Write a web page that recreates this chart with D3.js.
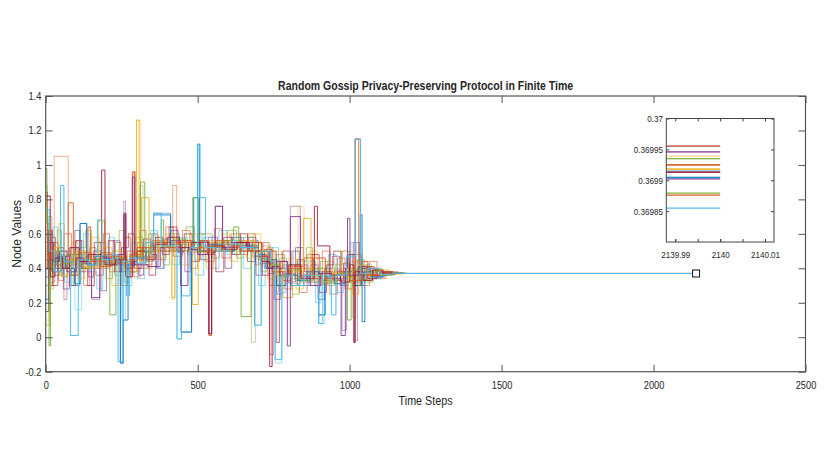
<!DOCTYPE html>
<html lang="en">
<head>
<meta charset="UTF-8">
<title>Random Gossip</title>
<script src="https://d3js.org/d3.v7.min.js"></script>
<style>
    body{margin:0;background:#fff;}
    svg text{font-family:"Liberation Sans",Arial,sans-serif;fill:#262626;}
</style>
</head>
<body>
<svg id="canvas" width="830" height="467"></svg>
<script>
// time at which every node is plotted to the end
const tEnd = 2140;
const xTicks = [0, 500, 1000, 1500, 2000, 2500];
const yTicks = [-0.2, 0, 0.2, 0.4, 0.6, 0.8, 1, 1.2, 1.4];
const yTickLabels = ["-0.2", "0", "0.2", "0.4", "0.6", "0.8", "1", "1.2", "1.4"];
const insetXTicks = [2139.99, 2140, 2140.01];
const insetXLabels = ["2139.99", "2140", "2140.01"];
const insetYTicks = [0.36985, 0.3699, 0.36995, 0.37];
const insetYLabels = ["0.36985", "0.3699", "0.36995", "0.37"];

// step points [time, value], one list per node
const nodeBlue = [[0,0.22],[9,0.45],[22,0.38],[40,0.47],[65,0.40],[95,0.31],[113,0.66],[135,0.42],[165,0.47],[200,0.44],[238,0.45],[246,-0.15],[255,0.10],[271,0.42],[300,0.46],[330,0.50],[355,0.71],[411,0.54],[446,0.03],[480,0.52],[487,0.81],[500,1.12],[506,0.50],[540,0.54],[580,0.50],[620,0.55],[660,0.53],[700,0.48],[725,0.40],[745,0.45],[760,0.30],[790,0.36],[830,0.33],[870,0.38],[898,0.13],[919,0.35],[950,0.31],[985,0.38],[1010,0.30],[1035,0.71],[1041,0.09],[1050,0.38],[1080,0.35],[1110,0.38],[1140,0.372],[1180,0.369904]];
const nodeOrange = [[0,0.84],[6,0.40],[15,0.55],[30,0.42],[55,0.47],[74,0.78],[91,0.45],[120,0.40],[139,0.64],[148,0.44],[180,0.49],[215,0.43],[250,0.47],[265,0.35],[280,0.45],[287,0.96],[293,0.48],[320,0.52],[350,0.56],[390,0.50],[430,0.55],[470,0.51],[510,0.56],[537,0.01],[546,0.50],[580,0.54],[620,0.52],[660,0.55],[700,0.46],[720,0.51],[745,0.38],[780,0.33],[810,0.41],[848,0.46],[880,0.34],[910,0.38],[945,0.33],[980,0.43],[1000,0.35],[1018,1.15],[1030,0.33],[1055,0.41],[1080,0.36],[1110,0.375],[1150,0.3702],[1190,0.369925]];
const nodeYellow = [[0,0.07],[14,0.40],[30,0.52],[48,0.36],[70,0.45],[100,0.50],[130,0.41],[172,0.68],[195,0.44],[230,0.47],[260,0.40],[299,1.26],[310,0.47],[315,0.81],[340,0.50],[370,0.53],[415,0.23],[425,0.54],[460,0.50],[483,0.19],[502,0.52],[540,0.55],[575,0.50],[610,0.54],[650,0.56],[690,0.50],[730,0.42],[760,0.36],[780,0.23],[812,0.38],[848,0.69],[873,0.36],[910,0.32],[945,0.37],[990,0.40],[1010,0.25],[1030,0.42],[1060,0.34],[1090,0.39],[1130,0.368],[1170,0.369918]];
const nodePurple = [[0,0.15],[10,0.55],[25,0.44],[45,0.50],[70,0.38],[100,0.46],[125,0.43],[151,0.23],[178,0.46],[210,0.42],[240,0.48],[257,0.71],[263,0.40],[285,0.93],[293,0.42],[336,0.41],[377,0.52],[410,0.56],[444,0.30],[468,0.51],[500,0.48],[537,0.02],[546,0.49],[558,0.76],[582,0.52],[620,0.55],[660,0.52],[700,0.47],[730,0.40],[760,0.44],[795,-0.05],[805,0.70],[838,0.35],[870,0.30],[905,0.37],[940,0.34],[972,0.01],[986,0.40],[993,0.69],[1001,0.36],[1030,0.41],[1060,0.34],[1090,0.38],[1130,0.371],[1170,0.369902]];
const nodeGreen = [[0,0.98],[4,0.66],[11,-0.05],[16,0.42],[35,0.50],[60,0.43],[90,0.48],[120,0.40],[150,0.45],[185,0.42],[211,0.13],[231,0.46],[260,0.44],[290,0.47],[312,0.90],[326,0.49],[350,0.55],[380,0.68],[388,0.52],[420,0.57],[460,0.52],[484,0.81],[503,0.50],[540,0.53],[580,0.56],[618,0.64],[635,0.53],[643,0.12],[676,0.52],[700,0.45],[740,0.42],[770,0.35],[800,0.39],[840,0.33],[880,0.40],[920,0.32],[960,0.37],[993,0.10],[1005,0.39],[1040,0.33],[1070,0.38],[1100,0.36],[1140,0.373],[1180,0.369879]];
const nodeDarkRed = [[0,0.82],[15,0.35],[30,0.46],[55,0.40],[80,0.52],[110,0.44],[140,0.48],[184,0.97],[195,0.42],[230,0.45],[258,0.72],[264,0.35],[285,0.44],[300,0.50],[330,0.45],[360,0.54],[400,0.58],[440,0.52],[480,0.55],[537,0.02],[546,0.53],[590,0.51],[630,0.55],[670,0.50],[710,0.44],[737,-0.17],[745,0.41],[770,0.36],[800,0.42],[840,0.34],[884,0.76],[894,0.53],[935,0.36],[970,0.32],[1000,0.42],[1014,-0.03],[1018,0.38],[1045,0.33],[1075,0.39],[1110,0.367],[1150,0.3701],[1190,0.369913]];
const nodeCyan = [[0,0.74],[12,0.50],[28,0.38],[49,0.88],[60,0.44],[82,0.01],[107,0.45],[140,0.42],[170,0.68],[185,0.45],[220,0.48],[238,-0.14],[254,0.44],[266,0.24],[276,0.46],[300,0.43],[330,0.55],[355,0.72],[380,0.53],[432,-0.01],[447,0.24],[475,0.52],[500,1.12],[507,0.81],[526,0.52],[560,0.50],[600,0.54],[640,0.52],[687,0.07],[709,0.50],[740,0.44],[755,-0.13],[777,0.36],[810,0.30],[850,0.36],[898,0.08],[912,0.36],[940,0.13],[955,0.36],[990,0.47],[1019,1.15],[1036,0.37],[1060,0.40],[1100,0.365],[1140,0.371],[1180,0.369855]];
const nodeSalmon = [[0,0.60],[8,0.40],[28,1.05],[74,0.44],[100,0.38],[130,0.47],[160,0.42],[200,0.48],[240,0.44],[265,0.40],[285,0.96],[295,0.45],[330,0.52],[370,0.50],[418,0.88],[431,0.54],[470,0.49],[510,0.56],[550,0.51],[590,0.55],[640,0.52],[680,0.47],[710,0.53],[740,0.42],[760,-0.03],[769,0.38],[800,0.34],[830,0.40],[870,0.35],[910,0.31],[950,0.38],[990,0.33],[1018,1.15],[1036,0.36],[1060,0.39],[1100,0.372],[1150,0.369956]];
const nodeRose = [[0,0.55],[12,0.30],[25,0.45],[60,0.22],[70,0.42],[100,0.48],[130,0.44],[170,0.40],[210,0.46],[250,0.42],[275,0.38],[300,0.55],[320,0.47],[360,0.52],[400,0.55],[440,0.50],[480,0.54],[520,0.49],[560,0.55],[600,0.52],[650,0.55],[700,0.43],[737,-0.10],[750,0.38],[790,0.36],[820,0.42],[860,0.32],[900,0.38],[940,0.34],[980,0.40],[1014,-0.03],[1018,0.36],[1050,0.40],[1090,0.36],[1130,0.372],[1170,0.369955]];
const nodeLilac = [[0,0.40],[10,0.32],[30,0.48],[60,0.40],[90,0.46],[120,0.38],[151,0.22],[178,0.43],[210,0.47],[240,0.42],[257,0.79],[263,0.45],[290,0.40],[336,0.41],[370,0.55],[410,0.51],[450,0.56],[490,0.50],[530,0.54],[558,0.76],[582,0.50],[620,0.53],[660,0.56],[700,0.50],[730,0.37],[758,-0.03],[769,0.40],[805,0.76],[838,0.32],[870,0.37],[910,0.33],[950,0.39],[975,0.04],[990,0.36],[1018,-0.02],[1026,0.40],[1060,0.36],[1100,0.374],[1150,0.369946]];
const nodeSand = [[0,0.10],[12,0.48],[35,0.40],[65,0.50],[95,0.42],[130,0.46],[172,0.67],[195,0.43],[230,0.40],[260,0.47],[299,1.26],[306,0.45],[340,0.50],[380,0.55],[415,0.22],[425,0.52],[470,0.55],[510,0.50],[550,0.53],[600,0.50],[640,0.55],[680,0.49],[710,0.41],[750,0.44],[780,0.36],[830,0.76],[850,0.36],[890,0.31],[930,0.39],[970,0.34],[1000,0.44],[1030,0.30],[1050,0.40],[1090,0.37],[1130,0.3705],[1170,0.369939]];
const nodeSage = [[0,0.88],[6,0.50],[20,0.36],[45,0.45],[75,0.40],[105,0.50],[140,0.43],[175,0.47],[205,0.42],[235,0.45],[270,0.38],[310,0.88],[320,0.47],[350,0.52],[390,0.56],[430,0.50],[470,0.55],[510,0.52],[560,0.55],[600,0.50],[640,0.54],[677,-0.03],[690,0.50],[720,0.45],[750,0.38],[780,0.42],[820,0.34],[860,0.39],[900,0.33],[940,0.40],[980,0.35],[1010,0.11],[1020,0.40],[1050,0.35],[1090,0.38],[1130,0.369],[1170,0.369935]];
const nodeSteel = [[0,0.30],[10,0.46],[30,0.36],[55,0.47],[86,0.30],[113,0.66],[135,0.44],[170,0.48],[205,0.43],[245,-0.15],[255,0.42],[290,0.47],[330,0.44],[355,0.72],[411,0.52],[446,0.03],[480,0.50],[520,0.55],[560,0.52],[600,0.56],[650,0.53],[690,0.47],[720,0.40],[760,0.25],[780,0.37],[820,0.33],[860,0.38],[898,0.13],[919,0.34],[960,0.38],[1000,0.32],[1040,0.41],[1070,0.35],[1100,0.375],[1140,0.3702],[1180,0.369905]];
const nodeAmber = [[0,0.45],[10,0.62],[20,0.38],[50,0.44],[80,0.36],[110,0.49],[150,0.45],[180,0.41],[215,0.47],[250,0.43],[280,0.48],[300,0.52],[330,0.46],[360,0.55],[400,0.52],[440,0.56],[480,0.52],[520,0.50],[560,0.56],[600,0.53],[640,0.50],[680,0.55],[710,0.47],[740,0.44],[770,0.36],[800,0.40],[840,0.36],[880,0.46],[920,0.34],[960,0.38],[1000,0.33],[1040,0.44],[1060,0.36],[1100,0.38],[1140,0.3695],[1180,0.369876]];
const nodeSky = [[0,0.50],[8,0.36],[25,0.46],[50,0.41],[75,0.52],[96,0.16],[118,0.44],[150,0.48],[190,0.43],[225,0.47],[250,0.10],[262,0.44],[300,0.42],[340,0.53],[380,0.50],[432,-0.01],[447,0.50],[500,1.12],[510,0.53],[540,0.50],[580,0.55],[620,0.51],[660,0.54],[687,0.07],[709,0.48],[740,0.40],[755,-0.15],[777,0.38],[800,0.31],[840,0.37],[880,0.32],[900,0.08],[919,0.37],[960,0.33],[990,0.48],[1019,1.15],[1036,0.39],[1070,0.35],[1110,0.373],[1150,0.369915]];
const nodeCopper = [[0,0.62],[10,0.30],[25,0.55],[42,0.33],[60,0.60],[85,0.36],[100,0.56],[125,0.30],[145,0.52],[165,0.36],[190,0.60],[210,0.38],[230,0.55],[248,0.30],[268,0.50],[290,0.35],[310,0.62],[330,0.42],[350,0.60],[370,0.45],[395,0.64],[420,0.47],[450,0.62],[475,0.40],[500,0.60],[525,0.44],[555,0.63],[580,0.46],[610,0.60],[640,0.48],[665,0.60],[690,0.42],[715,0.55],[735,0.30],[760,0.48],[785,0.28],[810,0.50],[835,0.26],[860,0.48],[885,0.30],[910,0.50],[935,0.25],[960,0.46],[985,0.28],[1010,0.48],[1040,0.30],[1065,0.44],[1090,0.34],[1120,0.38],[1160,0.3701],[1200,0.369925]];
const nodePlum = [[0,0.35],[14,0.58],[32,0.40],[58,0.28],[78,0.48],[96,0.62],[112,0.45],[140,0.35],[158,0.50],[182,0.27],[200,0.44],[222,0.56],[244,0.38],[262,0.58],[278,0.43],[305,0.36],[322,0.57],[345,0.48],[365,0.40],[388,0.57],[412,0.62],[436,0.49],[458,0.38],[478,0.55],[510,0.45],[535,0.58],[565,0.52],[590,0.40],[612,0.58],[645,0.50],[668,0.58],[692,0.36],[712,0.50],[732,0.43],[752,0.22],[772,0.44],[796,0.32],[822,0.52],[848,0.30],[872,0.42],[896,0.22],[918,0.40],[944,0.47],[968,0.30],[994,0.40],[1012,0.55],[1032,0.33],[1058,0.40],[1085,0.35],[1115,0.375],[1155,0.3698],[1195,0.369946]];
const nodeOlive = [[0,0.48],[8,0.70],[20,0.45],[38,0.62],[52,0.35],[72,0.48],[92,0.30],[110,0.52],[132,0.62],[150,0.40],[172,0.55],[198,0.34],[220,0.50],[242,0.62],[258,0.32],[276,0.48],[296,0.58],[318,0.44],[338,0.60],[362,0.50],[386,0.42],[408,0.60],[440,0.52],[462,0.64],[490,0.45],[515,0.60],[548,0.46],[572,0.55],[598,0.62],[628,0.46],[652,0.58],[682,0.50],[706,0.38],[728,0.52],[748,0.30],[770,0.46],[792,0.38],[812,0.25],[834,0.44],[858,0.52],[878,0.34],[904,0.44],[928,0.30],[952,0.42],[976,0.50],[1002,0.32],[1026,0.45],[1048,0.32],[1078,0.39],[1108,0.362],[1150,0.3703],[1195,0.369935]];
const nodeTeal = [[0,0.20],[10,0.40],[24,0.64],[40,0.46],[62,0.32],[80,0.52],[104,0.40],[124,0.60],[146,0.38],[168,0.28],[188,0.48],[208,0.58],[226,0.36],[246,0.46],[264,0.30],[284,0.55],[302,0.34],[326,0.46],[346,0.62],[368,0.40],[392,0.55],[418,0.42],[440,0.58],[466,0.48],[492,0.36],[520,0.58],[546,0.40],[570,0.62],[596,0.48],[622,0.58],[650,0.40],[676,0.56],[700,0.30],[722,0.44],[744,0.52],[766,0.26],[790,0.42],[814,0.50],[836,0.30],[864,0.44],[888,0.20],[906,0.38],[930,0.48],[956,0.26],[980,0.42],[1004,0.55],[1022,0.30],[1044,0.42],[1072,0.34],[1104,0.38],[1145,0.3697],[1190,0.369915]];
const nodeGold = [[0,0.58],[12,0.28],[26,0.50],[44,0.66],[62,0.40],[86,0.55],[106,0.34],[128,0.46],[152,0.58],[176,0.40],[196,0.52],[218,0.30],[240,0.50],[260,0.58],[280,0.38],[302,0.50],[324,0.40],[348,0.58],[374,0.46],[396,0.60],[424,0.50],[448,0.42],[474,0.60],[498,0.50],[528,0.40],[552,0.56],[580,0.60],[606,0.44],[632,0.56],[660,0.46],[684,0.60],[708,0.48],[730,0.34],[754,0.50],[776,0.38],[800,0.46],[824,0.28],[848,0.40],[870,0.50],[894,0.32],[920,0.44],[946,0.36],[970,0.50],[996,0.28],[1020,0.44],[1046,0.36],[1074,0.40],[1106,0.365],[1150,0.3702],[1195,0.369918]];
const nodeWine = [[0,0.40],[9,0.62],[22,0.30],[40,0.52],[58,0.44],[78,0.30],[98,0.56],[118,0.40],[138,0.30],[160,0.55],[182,0.44],[206,0.56],[226,0.38],[250,0.52],[272,0.60],[292,0.40],[316,0.52],[340,0.36],[362,0.58],[384,0.48],[406,0.64],[432,0.50],[456,0.60],[482,0.44],[506,0.56],[532,0.48],[560,0.38],[586,0.58],[614,0.48],[640,0.60],[664,0.44],[690,0.55],[712,0.36],[736,0.50],[758,0.40],[780,0.50],[806,0.30],[828,0.45],[852,0.38],[876,0.48],[900,0.26],[924,0.42],[948,0.50],[972,0.36],[998,0.48],[1018,0.30],[1040,0.40],[1068,0.36],[1100,0.378],[1145,0.3698],[1190,0.369913]];

const nodes = [nodeSalmon, nodeRose, nodeLilac, nodeSand, nodeSage, nodeSteel, nodeSky,
               nodeCopper, nodePlum, nodeOlive, nodeTeal, nodeGold, nodeWine,
               nodeBlue, nodeOrange, nodeYellow, nodePurple, nodeGreen, nodeDarkRed, nodeAmber, nodeCyan];
const nodeColors = ["#D95319","#A2142F","#7E2F8E","#EDB120","#77AC30","#0072BD","#4DBEEE",
                    "#D95319","#7E2F8E","#77AC30","#4DBEEE","#EDB120","#A2142F",
                    "#0072BD","#D95319","#EDB120","#7E2F8E","#77AC30","#A2142F","#D95319","#4DBEEE"];
const nodeAlpha = [0.45,0.45,0.45,0.45,0.45,0.45,0.45,
                   0.6,0.6,0.6,0.6,0.6,0.6,
                   0.85,0.85,0.85,0.85,0.85,0.85,0.85,1];

let svg = d3.select('#canvas');
let margin = {left: 45.7, right: 805.5, top: 96, bottom: 371.7};

let x = d3.scaleLinear().domain([0, 2500]).range([margin.left, margin.right]);
let y = d3.scaleLinear().domain([-0.2, 1.4]).range([margin.bottom, margin.top]);

let line = d3.line()
    .x(function (d){return x(d[0])})
    .y(function (d){return y(d[1])})
    .curve(d3.curveStepAfter);

let lines = svg.append('g');
nodes.forEach(function (pts, i){
    let last = pts[pts.length - 1];
    lines.append('path')
        .attr('d', line(pts.concat([[tEnd, last[1]]])))
        .attr('fill', 'none')
        .attr('stroke', nodeColors[i])
        .attr('stroke-opacity', nodeAlpha[i])
        .attr('stroke-width', 1);
});

// marker for the zoomed region
svg.append('rect')
    .attr('x', x(tEnd) - 3.5).attr('y', y(0.37) - 3.5)
    .attr('width', 7).attr('height', 7)
    .attr('fill', 'white').attr('stroke', '#111').attr('stroke-width', 1);

// main axes, ticks inward, box on
let axisCol = '#555';
function styleAxis(g){
    g.select('.domain').remove();
    g.selectAll('line').attr('stroke', axisCol);
    g.selectAll('text').attr('fill', '#262626').style('font-size', '10.5px');
}
svg.append('g').attr('transform', 'translate(0,' + margin.bottom + ')')
    .call(d3.axisBottom(x).tickValues(xTicks).tickSize(-7).tickPadding(10).tickFormat(d3.format('d')))
    .call(styleAxis)
    .call(function (g){ g.selectAll('text').attr('transform', 'scale(0.88,1)') });
svg.append('g').attr('transform', 'translate(0,' + margin.top + ')')
    .call(d3.axisTop(x).tickValues(xTicks).tickSize(-7).tickFormat(''))
    .call(styleAxis);
svg.append('g').attr('transform', 'translate(' + margin.left + ',0)')
    .call(d3.axisLeft(y).tickValues(yTicks).tickSize(-7).tickPadding(5)
        .tickFormat(function (d, i){return yTickLabels[i]}))
    .call(styleAxis)
    .call(function (g){ g.selectAll('text').attr('transform', 'scale(0.88,1)') });
svg.append('g').attr('transform', 'translate(' + margin.right + ',0)')
    .call(d3.axisRight(y).tickValues(yTicks).tickSize(-7).tickFormat(''))
    .call(styleAxis);
svg.append('rect')
    .attr('x', margin.left).attr('y', margin.top)
    .attr('width', margin.right - margin.left).attr('height', margin.bottom - margin.top)
    .attr('fill', 'none').attr('stroke', axisCol).attr('stroke-width', 1.2);

svg.append('text')
    .attr('x', (margin.left + margin.right) / 2).attr('y', 89.5)
    .attr('text-anchor', 'middle').attr('font-weight', 'bold').style('font-size', '12px')
    .attr('textLength', 295).attr('lengthAdjust', 'spacingAndGlyphs')
    .text('Random Gossip Privacy-Preserving Protocol in Finite Time');
svg.append('text')
    .attr('x', (margin.left + margin.right) / 2).attr('y', 405)
    .attr('text-anchor', 'middle').style('font-size', '12px')
    .attr('textLength', 54).attr('lengthAdjust', 'spacingAndGlyphs')
    .text('Time Steps');
svg.append('text')
    .attr('transform', 'translate(20.5,' + (margin.top + margin.bottom) / 2 + ') rotate(-90)')
    .attr('text-anchor', 'middle').style('font-size', '12px')
    .text('Node Values');

// inset
let ib = {left: 666.3, right: 774, top: 118.5, bottom: 242};
let ix = d3.scaleLinear().domain([2139.988, 2140.012]).range([ib.left, ib.right]);
let iy = d3.scaleLinear().domain([0.3698, 0.37]).range([ib.bottom, ib.top]);
let inset = svg.append('g');
inset.append('rect')
    .attr('x', ib.left).attr('y', ib.top)
    .attr('width', ib.right - ib.left).attr('height', ib.bottom - ib.top)
    .attr('fill', 'white');
nodes.forEach(function (pts, i){
    let v = pts[pts.length - 1][1];
    inset.append('line')
        .attr('x1', ix(ix.domain()[0])).attr('x2', ix(tEnd))
        .attr('y1', iy(v)).attr('y2', iy(v))
        .attr('stroke', nodeColors[i])
        .attr('stroke-opacity', Math.min(1, nodeAlpha[i] + 0.1))
        .attr('stroke-width', 1.2);
});
let minorX = d3.range(0, 5).map(function (k){return 2139.99 + k * 0.005});
function styleInset(g){
    g.select('.domain').remove();
    g.selectAll('line').attr('stroke', '#444');
    g.selectAll('text').attr('fill', '#262626').style('font-size', '9.5px').attr('transform', 'scale(0.85,1)');
}
inset.append('g').attr('transform', 'translate(0,' + ib.bottom + ')')
    .call(d3.axisBottom(ix).tickValues(minorX).tickSize(-3).tickFormat(''))
    .call(styleInset);
inset.append('g').attr('transform', 'translate(0,' + ib.bottom + ')')
    .call(d3.axisBottom(ix).tickValues(insetXTicks).tickSize(-3).tickPadding(9)
        .tickFormat(function (d, i){return insetXLabels[i]}))
    .call(styleInset);
inset.append('g').attr('transform', 'translate(0,' + ib.top + ')')
    .call(d3.axisTop(ix).tickValues(minorX).tickSize(-3).tickFormat(''))
    .call(styleInset);
inset.append('g').attr('transform', 'translate(' + ib.left + ',0)')
    .call(d3.axisLeft(iy).tickValues(insetYTicks).tickSize(-3).tickPadding(4)
        .tickFormat(function (d, i){return insetYLabels[i]}))
    .call(styleInset);
inset.append('g').attr('transform', 'translate(' + ib.right + ',0)')
    .call(d3.axisRight(iy).tickValues(insetYTicks).tickSize(-3).tickFormat(''))
    .call(styleInset);
inset.append('rect')
    .attr('x', ib.left).attr('y', ib.top)
    .attr('width', ib.right - ib.left).attr('height', ib.bottom - ib.top)
    .attr('fill', 'none').attr('stroke', '#444').attr('stroke-width', 1);
</script>
</body>
</html>
